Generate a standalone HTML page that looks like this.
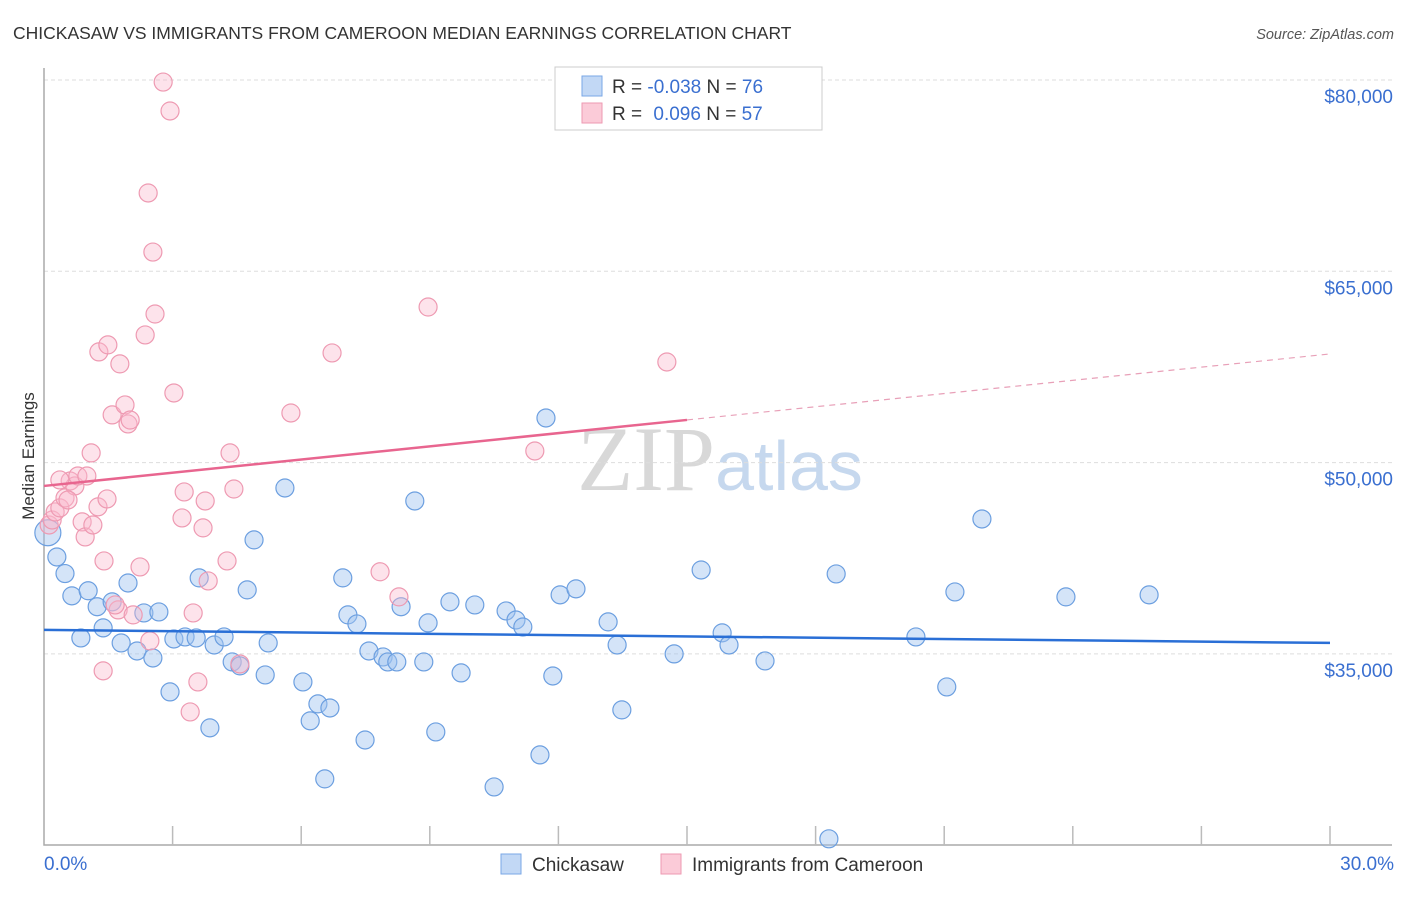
<!DOCTYPE html>
<html><head><meta charset="utf-8"><style>
body{margin:0;background:#fff;font-family:"Liberation Sans",sans-serif}
</style></head><body>
<svg id="chart" width="1406" height="892" xmlns="http://www.w3.org/2000/svg" style="font-family:'Liberation Sans',sans-serif">
<text x="13" y="39" font-size="17.5" fill="#333">CHICKASAW VS IMMIGRANTS FROM CAMEROON MEDIAN EARNINGS CORRELATION CHART</text>
<text x="1394" y="39" font-size="14.5" fill="#555" font-style="italic" text-anchor="end">Source: ZipAtlas.com</text>
<text x="720" y="490" font-size="92" text-anchor="middle"><tspan fill="#d8d8d8" font-family="Liberation Serif">ZIP</tspan><tspan fill="#c6d8ee" font-size="70">atlas</tspan></text>
<g id="grid"></g><g id="axes"></g><g id="marks"></g>
<text transform="translate(34,456) rotate(-90)" font-size="17" fill="#333" text-anchor="middle">Median Earnings</text>
<g>
<rect x="555" y="67" width="267" height="63" fill="#fff" stroke="#ccc"/>
<rect x="582" y="76" width="20" height="20" fill="#c2d8f5" stroke="#7aa7e6"/>
<rect x="582" y="103" width="20" height="20" fill="#fbcbd8" stroke="#ee9ab2"/>
<text x="612" y="93" font-size="19" fill="#333">R = <tspan fill="#3a6fd0">-0.038</tspan>   N = <tspan fill="#3a6fd0">76</tspan></text>
<text x="612" y="120" font-size="19" fill="#333">R =  <tspan fill="#3a6fd0" dx="6">0.096</tspan>   N = <tspan fill="#3a6fd0">57</tspan></text>
</g>
<g>
<rect x="501" y="854" width="20" height="20" fill="#c2d8f5" stroke="#7aa7e6"/>
<text x="532" y="871" font-size="19" fill="#333">Chickasaw</text>
<rect x="661" y="854" width="20" height="20" fill="#fbcbd8" stroke="#ee9ab2"/>
<text x="692" y="871" font-size="19" fill="#333">Immigrants from Cameroon</text>
</g>
</svg>
<script>
const yTicks=[80000,65000,50000,35000];
const yTickLabels=["$80,000","$65,000","$50,000","$35,000"];
const xTickLabels=["0.0%","30.0%"];
const blueX=[0.09,0.30,0.49,0.65,0.86,1.03,1.24,1.38,1.59,1.80,1.96,2.17,2.33,2.54,2.68,2.94,3.03,3.29,3.55,3.62,3.87,3.97,4.20,4.39,4.57,4.74,4.90,5.16,5.23,5.62,6.04,6.21,6.39,6.55,6.67,6.97,7.09,7.30,7.49,7.58,7.91,8.02,8.23,8.33,8.65,8.86,8.96,9.14,9.47,9.73,10.05,10.50,10.78,11.01,11.17,11.57,11.71,11.87,12.04,12.41,13.16,13.37,13.48,14.70,15.33,15.82,15.98,16.82,18.31,18.48,20.34,21.06,21.25,21.88,23.84,25.78];
const blueY=[44500,42600,41300,39550,36250,39950,38700,37040,39080,35860,40560,35230,38210,34680,38290,32020,36170,36330,36250,40960,29200,35700,36330,34370,34060,40020,43940,33350,35860,48010,32800,29750,31080,25200,30760,40960,38060,37350,28250,35230,34760,34370,34370,38700,46990,34370,37430,28880,39080,33510,38840,24570,38370,37660,37110,27080,53500,33270,39630,40100,37510,35700,30610,35000,41580,36650,35700,34450,20500,41270,36330,32410,39860,45580,39470,39630];
const pinkX=[0.12,0.19,0.26,0.37,0.49,0.61,0.72,0.79,0.89,0.96,1.00,1.10,1.14,1.26,1.28,1.40,1.47,1.49,1.59,1.38,1.73,1.77,1.89,1.96,2.01,2.08,2.24,2.43,2.47,2.54,2.59,2.36,2.78,2.94,3.03,3.22,3.27,3.41,3.48,3.59,3.76,3.83,3.71,4.27,4.34,4.43,4.57,5.76,6.72,7.84,8.28,8.96,11.45,14.53,0.37,0.56,1.66];
const pinkY=[45110,45500,46130,46450,47230,48560,48170,48950,45350,44170,48950,50760,45110,46530,58680,42290,47150,59230,53740,33670,38450,57740,54520,53030,53340,38060,41820,71140,36020,66510,61650,60010,79840,77570,55460,45660,47700,30450,38210,32800,46990,40720,44880,42290,50760,47930,34210,53890,58600,41440,39470,62200,50910,57890,48640,47070,38840];
const blueTrend=[36880,35860];
const pinkTrend=[48170,58520];
const NS="http://www.w3.org/2000/svg";
const X=p=>44+p*(1330-44)/30;
const Y=v=>80+(80000-v)*191.3/15000;
function mk(t,a,parent){const e=document.createElementNS(NS,t);for(const k in a)e.setAttribute(k,a[k]);document.getElementById(parent).appendChild(e);return e;}
yTicks.forEach((v,i)=>{
 let l=mk('line',{x1:44,x2:1392,y1:Y(v),y2:Y(v),stroke:'#ddd','stroke-dasharray':'4,3'},'grid');
 
 
 let t=mk('text',{x:1393,y:Y(v)+23,'font-size':19,fill:'#3a6fd0','text-anchor':'end'},'axes');
 t.textContent=yTickLabels[i];
 
 
});
let ax=mk('path',{d:'M44,68V845H1392',fill:'none',stroke:'#aaa','stroke-width':1.5},'axes');


for(let i=1;i<=10;i++){let tk=mk('line',{x1:X(i*3),x2:X(i*3),y1:826,y2:845,stroke:'#bbb','stroke-width':1.5},'axes');
 
 }
[[0,'start',44],[30,'end',1394]].forEach((d,i)=>{let t=mk('text',{x:d[2],y:870,'font-size':19,fill:'#3a6fd0','text-anchor':d[1]},'axes');t.textContent=xTickLabels[i];
 
 });
blueX.forEach((p,i)=>{let c=mk('circle',{cx:X(p),cy:Y(blueY[i]),r:i==0?13:9,fill:'rgba(160,195,240,0.45)',stroke:'#6c9fe0','stroke-width':1.2},'marks');
 
 });
pinkX.forEach((p,i)=>{let c=mk('circle',{cx:X(p),cy:Y(pinkY[i]),r:9,fill:'rgba(250,185,205,0.4)',stroke:'#ee9ab2','stroke-width':1.2},'marks');
 
 });
let bt=mk('line',{x1:X(0),y1:Y(blueTrend[0]),x2:X(30),y2:Y(blueTrend[1]),stroke:'#2a6fd6','stroke-width':2.5},'marks');


const pm=pinkTrend[0]+(pinkTrend[1]-pinkTrend[0])/2;
let pt=mk('line',{x1:X(0),y1:Y(pinkTrend[0]),x2:X(15),y2:Y(pm),stroke:'#e8658f','stroke-width':2.5},'marks');


let pd=mk('line',{x1:X(15),y1:Y(pm),x2:X(30),y2:Y(pinkTrend[1]),stroke:'#e8a0b8','stroke-width':1.2,'stroke-dasharray':'6,5'},'marks');


</script>
</body></html>
